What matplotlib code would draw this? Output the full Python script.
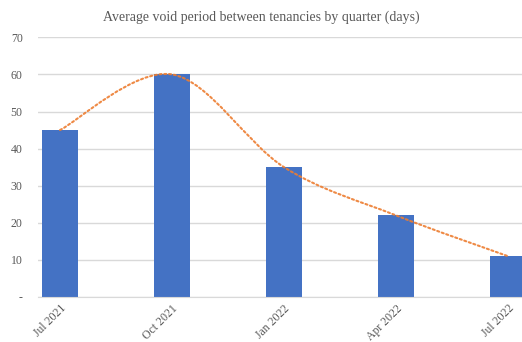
import matplotlib.pyplot as plt
from matplotlib.path import Path
from matplotlib.patches import PathPatch

# Quarterly void period figures
quarters = ["Jul 2021", "Oct 2021", "Jan 2022", "Apr 2022", "Jul 2022"]
void_days = [45, 60, 35, 22, 11]

BAR_COLOR = "#4472C4"
TREND_COLOR = "#ED7D31"
TEXT_COLOR = "#595959"

plt.rcParams['font.family'] = ['Liberation Serif', 'DejaVu Serif']


def smooth_path(xs, ys):
    # Bezier curve through every point, control points taken from the neighbours
    verts = [(xs[0], ys[0])]
    codes = [Path.MOVETO]
    n = len(xs)
    for i in range(n - 1):
        p0 = (xs[max(i - 1, 0)], ys[max(i - 1, 0)])
        p1 = (xs[i], ys[i])
        p2 = (xs[i + 1], ys[i + 1])
        p3 = (xs[min(i + 2, n - 1)], ys[min(i + 2, n - 1)])
        c1 = (p1[0] + (p2[0] - p0[0]) / 6, p1[1] + (p2[1] - p0[1]) / 6)
        c2 = (p2[0] - (p3[0] - p1[0]) / 6, p2[1] - (p3[1] - p1[1]) / 6)
        verts += [c1, c2, p2]
        codes += [Path.CURVE4] * 3
    return Path(verts, codes)


fig = plt.figure(figsize=(5.22, 3.42), dpi=100)
W, H = 522, 342
left_px, right_px, bottom_px, top_px = 38, 522, 297, 37.3
ax = fig.add_axes([left_px / W, 1 - bottom_px / H,
                   (right_px - left_px) / W, (bottom_px - top_px) / H])

x = list(range(len(quarters)))
ax.bar(x, void_days, width=0.327, color=BAR_COLOR, zorder=2)

trend = PathPatch(smooth_path(x, void_days), fill=False, edgecolor=TREND_COLOR,
                  linewidth=1.5, linestyle=(0, (1, 1.3)), capstyle='round',
                  alpha=0.9, zorder=3)
ax.add_patch(trend)

# category spacing of 112 px, first centre at 60 px
ax.set_xlim((left_px - 60) / 112, (right_px - 60) / 112)
ax.set_ylim(0, 70)
ax.set_yticks(range(0, 71, 10))
ax.set_yticklabels(["-"] + [str(v) for v in range(10, 71, 10)])
ax.yaxis.grid(True, color="#d9d9d9", linewidth=1)
ax.set_axisbelow(True)

ax.set_xticks(x)
ax.set_xticklabels(quarters, rotation=45, ha="right", rotation_mode="anchor")

for s in ax.spines.values():
    s.set_visible(False)
ax.spines['bottom'].set_visible(True)
ax.spines['bottom'].set_color("#d9d9d9")
ax.tick_params(axis='y', length=0, labelsize=8.5, colors=TEXT_COLOR, pad=11)
ax.tick_params(axis='x', length=0, labelsize=8.5, colors=TEXT_COLOR, pad=4)

fig.text(0.5, 1 - 17 / H, "Average void period between tenancies by quarter (days)",
         ha="center", va="center", fontsize=10, color=TEXT_COLOR)

fig.savefig("out.png", dpi=100)
